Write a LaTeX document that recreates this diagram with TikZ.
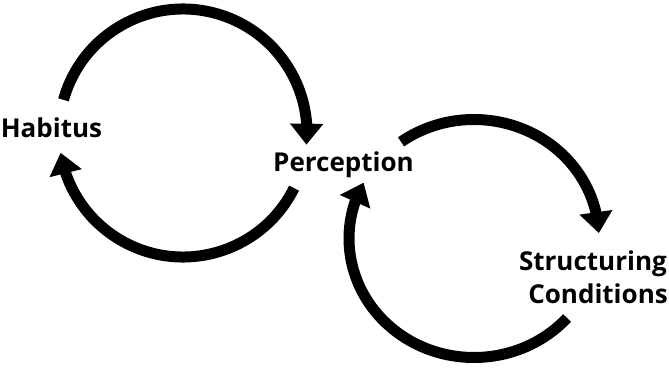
\documentclass[tikz,border=0pt]{standalone}
\usepackage{fontspec}
\setmainfont{Open Sans}
\usetikzlibrary{arrows.meta,bending,calc}
\begin{document}
\begin{tikzpicture}[x=1pt,y=1pt,
  loop/.style={line width=11pt, -{Triangle[width=32pt,length=21pt,flex]}},
  lab/.style={font=\fontsize{26}{30}\selectfont\bfseries, inner sep=0pt}]
\useasboundingbox (0,0) rectangle (669,370);
\coordinate (C1) at (183,237);
\coordinate (C2) at (474,131.5);
\node[lab, anchor=base] (habitus) at (51.5,232) {Habitus};
\node[lab, anchor=base] (perception) at (343.5,198) {Perception};
\node[lab, anchor=base east] (struct) at (667,100) {Structuring};
\node[lab, anchor=base east] (cond) at (668,67) {Conditions};
\coordinate (a1) at ($(C1)+(164.5:124)$);
\draw[loop] (a1) arc[start angle=164.5, end angle=-5.4, radius=124];
\coordinate (a2) at ($(C1)+(-26.4:124)$);
\draw[loop] (a2) arc[start angle=-26.4, end angle=-170.8, radius=124];
\coordinate (b1) at ($(C2)+({125*cos(125.7)},{119*sin(125.7)})$);
\draw[loop] (b1) arc[start angle=125.7, end angle=2.6, x radius=125, y radius=119];
\coordinate (b2) at ($(C2)+({125*cos(-41.9)},{119*sin(-41.9)})$);
\draw[loop] (b2) arc[start angle=-41.9, end angle=-208, x radius=125, y radius=119];
\end{tikzpicture}
\end{document}
